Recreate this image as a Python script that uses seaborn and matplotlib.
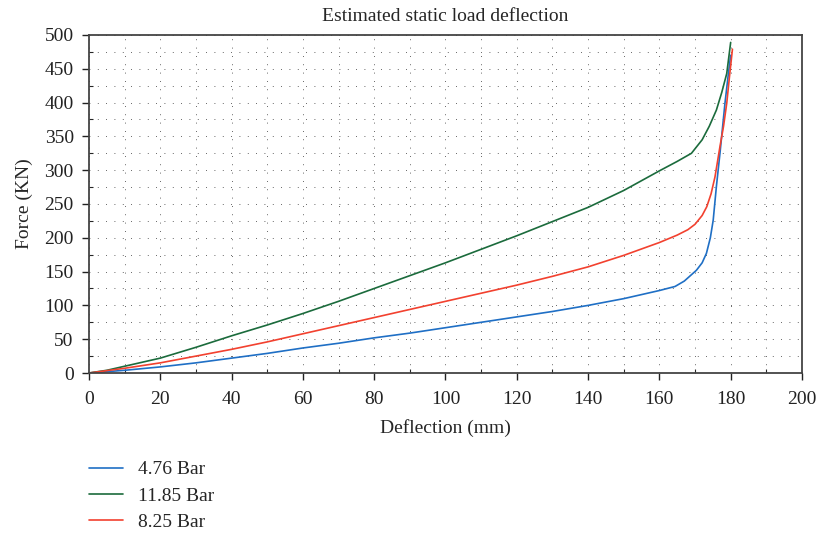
import matplotlib
matplotlib.use("Agg")
import matplotlib.pyplot as plt
from matplotlib.ticker import MultipleLocator
import seaborn as sns
import pandas as pd

# Data (deflection mm, force KN)
blue_x = [0, 10, 20, 30, 40, 50, 60, 70, 80, 90, 100, 110, 120, 130, 140, 150, 160, 164.4,
          167, 170.4, 172, 173.2, 174.3, 175.1, 176.0, 177.0, 178.4, 179.3, 180.0]
blue_y = [0, 4, 9, 15, 22, 29, 37, 44, 52, 59, 67, 75, 83, 91, 100, 110, 122, 128,
          136, 152, 163, 177, 200, 226, 276, 325, 399, 440, 470]

green_x = [0, 5, 10, 20, 30, 40, 50, 60, 70, 80, 90, 100, 110, 120, 130, 140, 150, 160,
           165, 169, 172, 174, 176, 177.5, 178.9, 180.0]
green_y = [0, 4, 10, 22, 38, 55, 71, 88, 106, 125, 144, 163, 183, 203, 224, 245, 270, 299,
           313, 325, 345, 365, 389, 415, 443, 489]

red_x = [0, 10, 20, 30, 40, 50, 60, 70, 80, 90, 100, 110, 120, 130, 140, 150, 160, 165,
         168, 170, 172, 173.3, 174.5, 175.6, 177.0, 178.0, 178.9, 179.7, 180.5]
red_y = [0, 7, 15, 25, 35, 46, 58, 70, 82, 94, 106, 118, 130, 143, 157, 174, 193, 204,
         212, 220, 233, 246, 265, 290, 335, 365, 399, 440, 479]

labels = ["4.76 Bar", "11.85 Bar", "8.25 Bar"]
colors = ["#1f6fc5", "#1b6b3c", "#f2412f"]

df = pd.concat([
    pd.DataFrame({"x": blue_x, "y": blue_y, "series": labels[0]}),
    pd.DataFrame({"x": green_x, "y": green_y, "series": labels[1]}),
    pd.DataFrame({"x": red_x, "y": red_y, "series": labels[2]}),
], ignore_index=True)

sns.set_style("ticks")
plt.rcParams['font.family'] = ['Liberation Serif', 'DejaVu Serif']

fig = plt.figure(figsize=(8.2, 5.35), dpi=100)
ax = fig.add_axes([0.1085, 0.3028, 0.8695, 0.6318])

sns.lineplot(data=df, x="x", y="y", hue="series", hue_order=labels,
             palette=dict(zip(labels, colors)), sort=False, estimator=None,
             linewidth=1.2, ax=ax)

ax.set_xlim(0, 200)
ax.set_ylim(0, 500)
ax.xaxis.set_major_locator(MultipleLocator(20))
ax.yaxis.set_major_locator(MultipleLocator(50))
ax.xaxis.set_minor_locator(MultipleLocator(10))
ax.yaxis.set_minor_locator(MultipleLocator(25))
ax.grid(which='both', color='#333333', linestyle=(0, (1, 9)), linewidth=0.6)
ax.tick_params(which='major', direction='out', length=5, width=1, labelsize=14,
               colors='#222222')
ax.tick_params(axis='x', which='major', pad=8)
ax.tick_params(axis='y', which='major', pad=6)
ax.tick_params(which='minor', direction='in', length=3, width=0.8)
for s in ax.spines.values():
    s.set_color('#444444')
    s.set_linewidth(1.3)

ax.set_title("Estimated static load deflection", fontsize=14, pad=10)
ax.set_xlabel("Deflection (mm)", fontsize=14, labelpad=8)
ax.set_ylabel("Force (KN)", fontsize=14, labelpad=8)

leg = ax.legend(title=None, loc='upper left', bbox_to_anchor=(0.0, -0.26),
                frameon=False, fontsize=14, handlelength=1.75, handletextpad=0.75,
                labelspacing=0.45, borderpad=0, borderaxespad=0)
for h in leg.get_lines():
    h.set_linewidth(1.2)

fig.savefig("out.png", dpi=100)
